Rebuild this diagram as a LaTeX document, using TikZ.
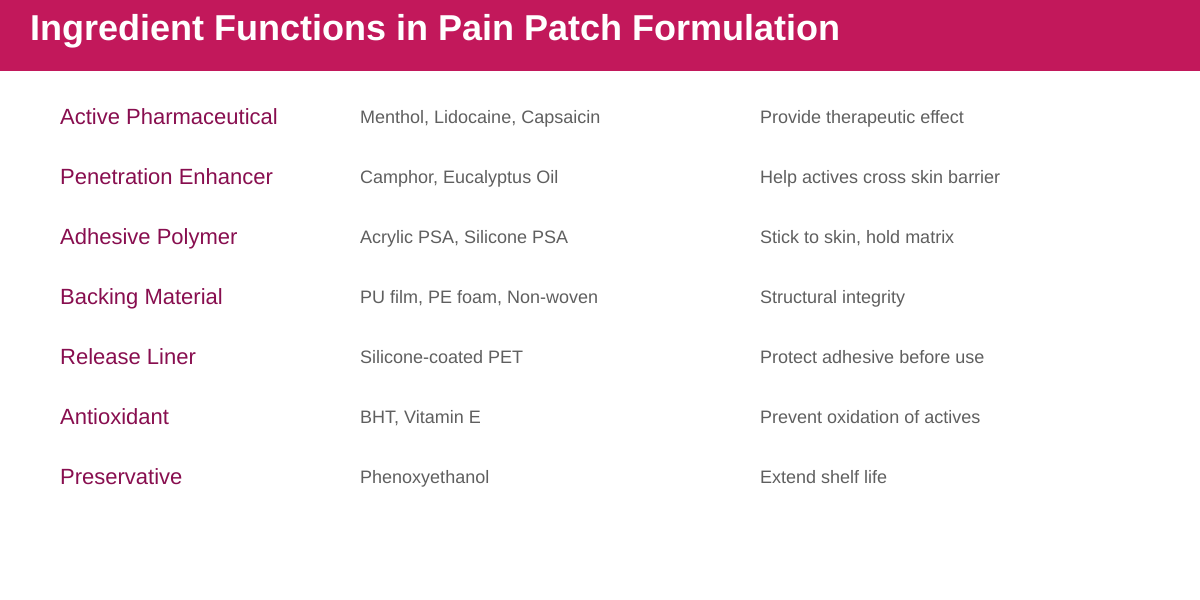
\documentclass[tikz,border=0pt]{standalone}
\usepackage{fontspec}
\setmainfont{Liberation Sans}
\definecolor{hdr}{HTML}{C2185B}
\definecolor{lab}{HTML}{880E4F}
\definecolor{txt}{HTML}{5F5F5F}
\begin{document}
\begin{tikzpicture}[x=1pt,y=-1pt,
  ttlstyle/.style={anchor=mid west,text=white,font=\fontsize{36}{42}\selectfont\bfseries,inner sep=0},
  rowstyle/.style={anchor=mid west,text=lab,font=\fontsize{22}{26}\selectfont,inner sep=0},
  cellstyle/.style={anchor=mid west,text=txt,font=\fontsize{18}{22}\selectfont,inner sep=0}]
\useasboundingbox (0,0) rectangle (1200,600);
\fill[white] (0,0) rectangle (1200,600);
\fill[hdr] (0,0) rectangle (1200,71);
\node[ttlstyle] (t) at (30,38) {Ingredient Functions in Pain Patch Formulation};
\foreach \i/\a/\b/\c in {0/Active Pharmaceutical/{Menthol, Lidocaine, Capsaicin}/Provide therapeutic effect,
1/Penetration Enhancer/{Camphor, Eucalyptus Oil}/Help actives cross skin barrier,
2/Adhesive Polymer/{Acrylic PSA, Silicone PSA}/{Stick to skin, hold matrix},
3/Backing Material/{PU film, PE foam, Non-woven}/Structural integrity,
4/Release Liner/Silicone-coated PET/Protect adhesive before use,
5/Antioxidant/{BHT, Vitamin E}/Prevent oxidation of actives,
6/Preservative/Phenoxyethanol/Extend shelf life}{
  \node[rowstyle] (n\i) at (60,122+60*\i) {\a};
  \node[cellstyle] (m\i) at (360,121+60*\i) {\b};
  \node[cellstyle] (f\i) at (760,121+60*\i) {\c};
}
\end{tikzpicture}
\end{document}
